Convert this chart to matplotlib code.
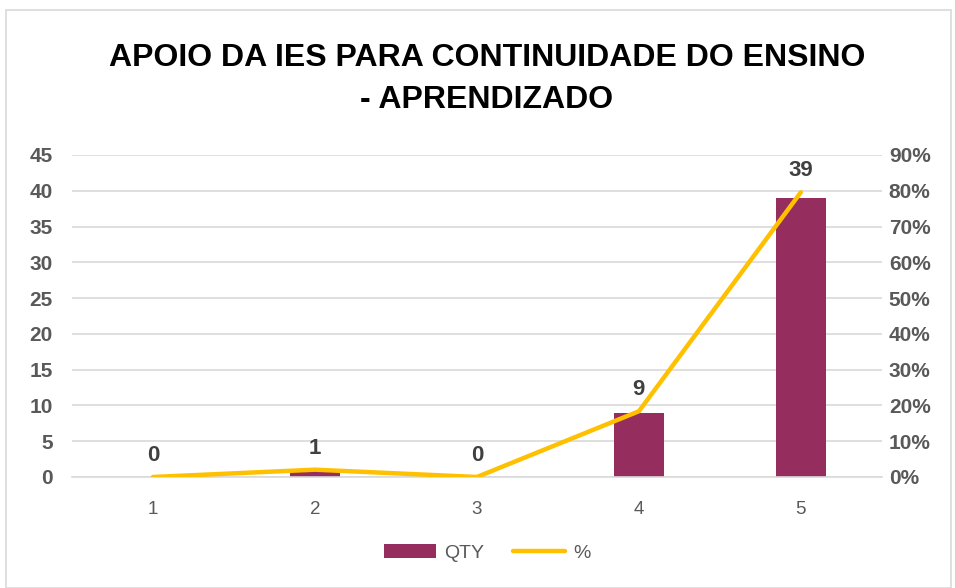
import matplotlib
matplotlib.use("Agg")
import matplotlib.pyplot as plt
from matplotlib.ticker import FuncFormatter, MultipleLocator
from matplotlib.patches import Rectangle

plt.rcParams["font.family"] = ["Liberation Sans", "DejaVu Sans"]

categories = ["1", "2", "3", "4", "5"]
qty = [0, 1, 0, 9, 39]
pct = [0.0, 2.04, 0.0, 18.37, 79.59]

title = "APOIO DA IES PARA CONTINUIDADE DO ENSINO\n- APRENDIZADO"
bar_color = "#952E5F"
line_color = "#FFC000"
text_color = "#595959"

fig = plt.figure(figsize=(9.55, 5.88), dpi=100)
fig.patches.append(Rectangle((0.006, 0.0), 0.99, 0.983, transform=fig.transFigure,
                             fill=False, edgecolor="#D9D9D9", linewidth=1.2))
ax = fig.add_axes([0.0754, 0.1888, 0.848, 0.5476])
x = list(range(len(categories)))
bars = ax.bar(x, qty, width=0.31, color=bar_color, zorder=2, label="QTY")
ax.set_ylim(0, 45)
ax.set_xlim(-0.5, 4.5)
ax.yaxis.set_major_locator(MultipleLocator(5))
ax.grid(axis="y", color="#D9D9D9", linewidth=1.2, zorder=0)
ax.set_axisbelow(True)
for s in ["top", "right", "left"]:
    ax.spines[s].set_visible(False)
ax.spines["bottom"].set_color("#D9D9D9")
ax.spines["bottom"].set_linewidth(1.2)
ax.set_xticks(x)
ax.set_xticklabels(categories)
ax.tick_params(axis="x", length=0, colors=text_color, labelsize=13.5, pad=17)
ax.tick_params(axis="y", length=0, colors=text_color, labelsize=15, pad=14)
for lab in ax.get_yticklabels():
    lab.set_fontweight("bold")

ax2 = ax.twinx()
line, = ax2.plot(x, pct, color=line_color, linewidth=3.2, zorder=3, label="%",
                 solid_capstyle="round")
ax2.set_ylim(0, 90)
ax2.yaxis.set_major_locator(MultipleLocator(10))
ax2.yaxis.set_major_formatter(FuncFormatter(lambda v, p: f"{v:.0f}%"))
for s in ["top", "right", "left", "bottom"]:
    ax2.spines[s].set_visible(False)
ax2.tick_params(axis="y", length=0, colors=text_color, labelsize=15, pad=5)
for lab in ax2.get_yticklabels():
    lab.set_fontweight("bold")

for xi, q, p in zip(x, qty, pct):
    yv = max(p / 2.0, q)
    ax.annotate(str(q), (xi, yv), xytext=(0, 8), textcoords="offset points",
                ha="center", va="bottom", fontsize=16, fontweight="bold",
                color="#404040")

fig.text(0.51, 0.866, title, ha="center", va="center", fontsize=23,
         fontweight="bold", linespacing=1.5, color="black")

fig.legend(handles=[bars, line], labels=["QTY", "%"], loc="center",
           bbox_to_anchor=(0.51, 0.06), ncol=2, frameon=False, fontsize=14,
           labelcolor=text_color, handlelength=2.7, columnspacing=1.5,
           handletextpad=0.4)

fig.savefig("out.png", dpi=100)
